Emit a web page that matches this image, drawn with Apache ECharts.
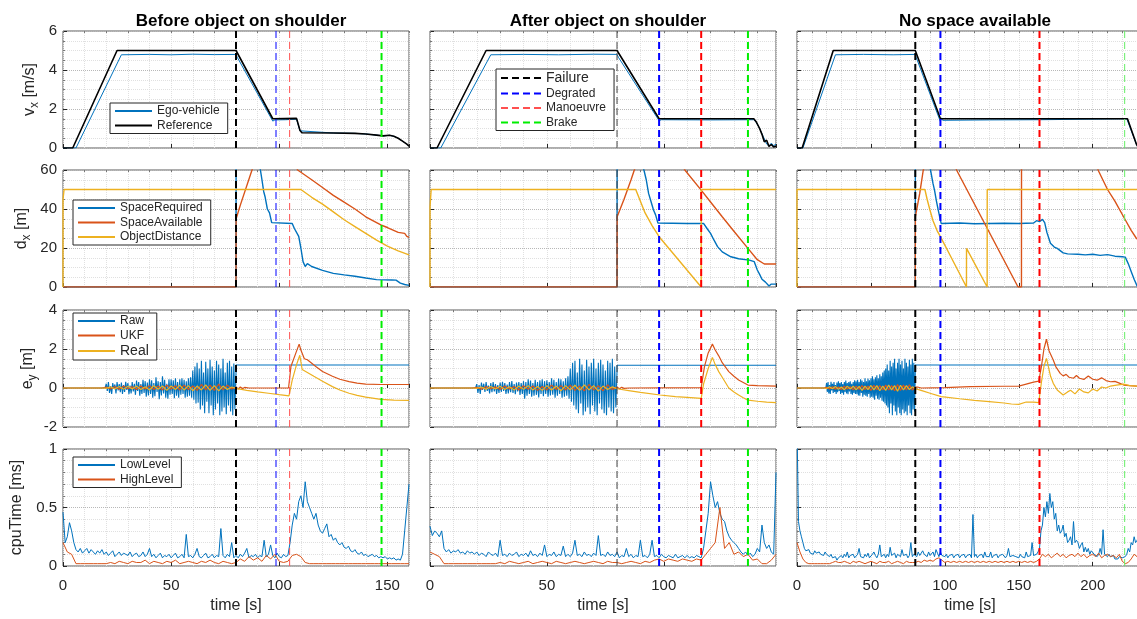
<!DOCTYPE html>
<html>
<head>
<meta charset="utf-8">
<title>Degraded mode scenarios</title>
<script src="https://cdn.jsdelivr.net/npm/echarts@6/dist/echarts.min.js"></script>
<style>
  html, body { margin: 0; padding: 0; background: #fff; }
  #chart { width: 1137px; height: 619px; }
</style>
</head>
<body>
<div id="chart"></div>
<script>
// ---------------- data ----------------
const titles = ['Before object on shoulder', 'After object on shoulder', 'No space available']
const tMax = [160, 148, 234]

// event times per scenario
const tFailure = [80, 80, 80]
const tDegraded = [98.5, 98, 97]
const tManoeuvre = [104.8, 116, 164]
const tBrake = [147.3, 136, 221.6]

// v_x [m/s]
const c1VxRef = [[0,0],[4.5,0],[25,5],[80,5],[97,1.5],[108,1.52],[108.8,1.45],[109.6,0.9],[110.5,0.78],[125,0.77],[135,0.75],[140,0.72],[145,0.66],[148,0.62],[151,0.65],[153,0.6],[155,0.5],[157,0.35],[159,0.2],[160,0.1]]
const c1VxEgo = [[0,0],[6,0],[27,4.78],[40,4.8],[50,4.78],[60,4.81],[70,4.79],[80,4.8],[80.6,4.65],[97,1.38],[98,1.44],[103,1.45],[108,1.48],[108.8,1.42],[109.6,0.88],[110.5,0.78],[125,0.77],[135,0.75],[140,0.72],[145,0.66],[148,0.62],[151,0.65],[153,0.6],[155,0.5],[157,0.35],[159,0.2],[160,0.1]]
const c2VxRef = [[0,0],[3,0],[24,5],[80,5],[98,1.5],[138.5,1.5],[139.5,1.35],[141,1.0],[142,0.7],[143,0.32],[144,0.4],[145,0.08],[146,0.18],[147,0.05],[148,0.1]]
const c2VxEgo = [[0,0],[4.6,0],[26,4.78],[40,4.8],[55,4.78],[70,4.81],[80,4.8],[80.6,4.65],[98,1.4],[99,1.45],[120,1.44],[138.5,1.45],[139.5,1.32],[141,1.0],[142.5,0.6],[144,0.2],[145,0.1],[146,0.25],[147,0.12],[148,0.2]]
const c3VxRef = [[0,0],[3.5,0],[24.5,5],[80,5],[97,1.5],[223.5,1.5],[229.5,0.2],[231,0]]
const c3VxEgo = [[0,0],[4,0],[26,4.78],[45,4.8],[65,4.78],[80,4.8],[80.6,4.65],[97,1.35],[97.5,1.55],[98.5,1.42],[130,1.44],[164,1.45],[165,1.5],[223,1.5],[224,1.45],[229.5,0.2],[231,0]]

// d_x [m]
const c1Req = [[0,0],[80,0],[80.05,80],[91,62],[92,55],[92.8,49],[93.5,46],[94.5,40],[95.5,38],[96.5,33],[97,32.6],[106,32.6],[107,30],[109,26],[110,20],[111,13],[112,10.5],[113,12],[115,10.5],[120,8.5],[125,7],[130,6.2],[135,5.5],[140,4.6],[145,3.8],[152,3.6],[154,3.5],[156,2],[158,1.3],[160,0.8]]
const c1Avail = [[0,0],[80,0],[80.05,35],[82,42],[85,52],[88,62],[95,80],[105,70],[108.5,60],[115,55],[120,51],[125,47],[130,43.5],[135,40],[140,36],[145,33],[147,31.8],[150,30.5],[155,28],[158,27.5],[159,26],[160,25.5]]
const c1Obj = [[0,0],[0.01,45],[0.5,50],[110,50],[115,46],[120,42.5],[125,38.5],[130,34.5],[135,31],[140,27.5],[145,24],[150,21],[155,18.5],[160,16.5]]
const c2Req = [[0,0],[80,0],[80.05,80],[91,62],[91.5,60],[92.5,55],[93.5,48],[94.5,44],[95.6,39.5],[96.5,37],[97.5,32.8],[110,32.6],[117,32.6],[118.5,30],[120,27.5],[121.5,24],[123,20.7],[125,18],[128.7,15.5],[132,14.5],[136.6,13.8],[138.7,13],[139.5,13.2],[140,8.7],[141,6.5],[142,4],[143.5,2.5],[145,0.5],[146,1.5],[148,1.5]]
const c2Avail = [[0,0],[80,0],[80.05,36],[83,45],[86,55],[87.4,60],[90,70],[105,70],[109,60],[116,49.7],[120,43.6],[125,36],[130,28.6],[136,19.8],[140,14],[143,11.8],[148,11.8]]
const c2Obj = [[0,0],[0.01,41],[0.5,50],[88,50],[90,44],[92,38],[95,31.5],[98,25.8],[105,15.8],[110,8.6],[116,0],[116.01,50],[148,50]]
const c3Req = [[0,0],[80,0],[80.05,80],[90,62],[90.3,60],[92,53],[93,49.7],[94.3,44],[95.5,39.5],[96.5,36],[97.5,32.6],[110,32.8],[120,32.4],[130,32.6],[140,32.7],[150,32.6],[160,32.8],[162,34],[164,33.5],[166,34.7],[167.5,33],[169,28],[171.4,22.4],[174,20.5],[176,19.8],[180,17.5],[183,17],[190,16.8],[195,16.5],[200,16.8],[205,16.2],[210,16.6],[215,15.8],[220,15.5],[222,15.3],[224,12],[226,8],[228,4],[230,0.5],[234,0]]
const c3Avail = [[0,0],[80,0],[80.05,36],[83,48],[85.4,60],[90,70],[104,70],[107.9,60],[149.5,0],[151.8,0],[151.85,80],[200,80],[203.6,60],[210,50],[215,44],[221.6,35],[226,29],[229.5,25],[234,22]]
const c3Obj = [[0,0],[0.01,50],[86.5,50],[88,45],[89.9,39.5],[92,34],[95,28.5],[97,25.8],[105,14.1],[110,6.8],[114.6,0],[114.65,19.8],[128.6,0],[128.65,50],[234,50]]

// e_y [m]: raw measurement noise sampled every 0.5 s from t = 20 s to 80 s
const noiseStart = 20, noiseStep = 0.5
const c1RawNoise = [
	.22,-.15,.3,-.25,.1,-.3,.25,-.05,.18,-.28,.3,-.12,.2,-.22,.28,-.3,.15,-.2,.32,-.1,
	.25,-.32,.12,-.28,.3,-.18,.22,-.35,.38,-.15,.3,-.4,.2,-.3,.42,-.25,.35,-.45,.28,-.38,
	.45,-.3,.4,-.5,.25,-.42,.55,-.2,.35,-.58,.3,-.38,.6,-.28,.42,-.5,.22,-.55,.45,-.35,
	.45,-.3,.4,-.52,.5,-.4,.3,-.5,.45,-.35,.5,-.3,.42,-.5,.35,-.45,.5,-.4,.55,-.5,
	.9,-.6,1.1,-.8,1.3,-.75,1.0,-1.1,1.4,-.9,.8,-1.3,1.35,-.7,1.0,-1.3,1.45,-.9,1.1,-1.4,
	.9,-1.1,1.4,-.8,1.2,-1.4,1.0,-1.2,1.5,-1.0,.8,-1.35,1.3,-.9,1.4,-1.2,1.1,-1.4,1.25,-1.1,
	.8]
const c2RawNoise = [
	.2,-.25,.15,-.3,.28,-.1,.22,-.2,.3,-.15,.12,-.28,.25,-.22,.3,-.18,.2,-.3,.15,-.25,
	.28,-.2,.32,-.15,.25,-.3,.18,-.28,.3,-.22,.35,-.25,.2,-.32,.28,-.18,.3,-.35,.25,-.3,
	.35,-.55,.3,-.4,.45,-.3,.38,-.45,.25,-.4,.42,-.35,.3,-.48,.4,-.3,.45,-.42,.35,-.3,
	.4,-.45,.3,-.38,.5,-.35,.42,-.5,.3,-.4,.48,-.3,.45,-.5,.35,-.45,.5,-.4,.6,-.55,
	1.0,-.7,1.3,-.9,1.4,-1.1,.8,-1.3,1.5,-.8,1.2,-1.4,.9,-1.2,1.45,-1.0,1.1,-1.35,1.3,-.9,
	1.5,-1.2,1.0,-1.4,1.3,-.8,1.45,-1.1,1.2,-1.3,.9,-1.4,1.4,-1.0,1.3,-1.2,1.5,-1.3,1.1,-1.0,
	.9]
const c3RawNoise = [
	.25,-.2,.3,-.28,.15,-.3,.32,-.12,.22,-.25,.3,-.2,.15,-.3,.28,-.22,.35,-.15,.25,-.3,
	.3,-.25,.2,-.35,.3,-.2,.38,-.28,.25,-.32,.3,-.18,.35,-.3,.22,-.35,.3,-.25,.4,-.3,
	.35,-.3,.42,-.38,.3,-.4,.45,-.25,.38,-.45,.3,-.35,.5,-.4,.35,-.45,.48,-.3,.4,-.5,
	.5,-.45,.6,-.5,.45,-.6,.55,-.4,.65,-.55,.5,-.6,.7,-.5,.6,-.65,.8,-.7,.9,-.8,
	1.0,-.9,1.2,-1.0,.9,-1.3,1.4,-.8,1.1,-1.4,1.3,-.9,1.5,-1.2,1.0,-1.4,1.3,-1.0,1.5,-1.3,
	1.2,-1.4,1.4,-1.1,1.0,-1.3,1.5,-1.2,1.3,-1.4,1.1,-.9,1.45,-1.3,1.2,-1.4,1.5,-1.1,1.3,-1.2,
	.9]
const rawLevel = [1.18, 1.17, 1.18]

// filtered / real lateral error ripple, every 2 s from t = 20 s to 80 s
const rippleStep = 2
const c1UkfRipple = [.05,-.05,.08,-.06,.1,-.04,.07,-.08,.1,-.05,.12,-.08,.1,-.1,.15,-.05,.12,-.1,.15,-.08,.1,-.12,.18,-.1,.15,-.12,.2,-.1,.15,-.05,.05]
const c1RealRipple = [-.02,.06,-.05,.08,-.07,.09,-.05,.1,-.08,.06,-.1,.12,-.06,.1,-.12,.1,-.08,.14,-.1,.12,-.14,.1,-.1,.16,-.12,.12,-.15,.1,-.08,.05,-.02]
const c2UkfRipple = [.03,-.06,.08,-.04,.06,-.08,.1,-.05,.08,-.1,.12,-.06,.1,-.12,.08,-.1,.15,-.08,.12,-.1,.14,-.12,.1,-.15,.18,-.1,.12,-.14,.16,-.08,.05]
const c2RealRipple = [-.02,.05,-.07,.08,-.05,.09,-.08,.06,-.1,.1,-.07,.12,-.1,.08,-.12,.12,-.1,.1,-.14,.12,-.1,.14,-.12,.16,-.1,.12,-.16,.1,-.08,.06,-.04]
const c3UkfRipple = [.04,-.05,.07,-.06,.05,-.08,.09,-.05,.07,-.09,.1,-.07,.12,-.08,.1,-.12,.14,-.09,.12,-.1,.15,-.1,.12,-.14,.18,-.12,.15,-.1,.16,-.1,.05]
const c3RealRipple = [-.03,.06,-.04,.08,-.07,.05,-.09,.1,-.06,.09,-.1,.08,-.12,.1,-.08,.13,-.1,.12,-.14,.1,-.12,.15,-.1,.12,-.16,.14,-.1,.12,-.08,.06,-.03]

// e_y after the failure
const c1UkfTail = [[81,-0.05],[82,0.05],[83,-0.03],[84,0.03],[86,0],[104.3,0],[105.4,1.1],[107.7,1.8],[109.2,2.25],[110,1.95],[111.6,1.5],[113,1.45],[116.9,1.1],[120,0.85],[124.6,0.6],[128,0.45],[132.3,0.33],[136,0.25],[140,0.2],[147,0.18],[160,0.18]]
const c1RealTail = [[85,-0.12],[90,-0.2],[95,-0.27],[100,-0.34],[104.5,-0.4],[106,0.4],[108,1.2],[109.5,1.68],[110.6,0.95],[113,0.8],[116,0.6],[120,0.35],[124.6,0.07],[128,-0.1],[132.3,-0.27],[136,-0.38],[140,-0.47],[147,-0.58],[153,-0.62],[160,-0.63]]
const c2UkfTail = [[81,-0.04],[82,0.04],[83,-0.02],[85,0],[116,0.02],[117.4,1.1],[119,1.8],[120.8,2.25],[122,1.95],[123.5,1.65],[125,1.3],[127.8,0.84],[130,0.6],[132,0.41],[134,0.28],[136,0.15],[140,0.12],[148,0.1]]
const c2RealTail = [[85,-0.13],[90,-0.22],[98.4,-0.36],[105,-0.44],[110,-0.48],[116,-0.53],[117,0.2],[119,1.0],[120.8,1.57],[122,1.2],[123.5,0.84],[125,0.55],[127.8,0.0],[130,-0.2],[132,-0.36],[134,-0.5],[136,-0.62],[140,-0.68],[144,-0.72],[148,-0.75]]
const c3UkfTail = [[81,-0.04],[82,0.04],[84,0],[100,0.02],[117,0.07],[140,0.09],[150,0.1],[155,0.2],[160,0.3],[163.5,0.35],[165.3,1.1],[167,2.0],[168.7,2.5],[170.5,1.9],[173.3,1.44],[175,1.1],[178,0.75],[180,0.62],[182,0.7],[184,0.55],[187,0.5],[189,0.64],[191,0.5],[194,0.44],[197,0.62],[200,0.45],[203,0.4],[206,0.52],[209,0.38],[212,0.32],[215,0.34],[218,0.25],[221,0.15],[225,0.12],[230,0.1],[234,0.1]]
const c3RealTail = [[85,-0.15],[90,-0.27],[97.5,-0.44],[110,-0.55],[120,-0.63],[130,-0.7],[140,-0.77],[145,-0.82],[150,-0.84],[155,-0.72],[160,-0.72],[163.5,-0.75],[165.3,0.3],[167,1.1],[168.7,1.52],[170,1.1],[171.5,0.6],[173.3,0.24],[176,-0.1],[180,-0.36],[183,-0.2],[185,-0.12],[188,-0.3],[191,-0.05],[194,-0.2],[197,-0.25],[200,-0.05],[203,-0.15],[206,0.05],[209,0],[212,0.1],[216,0.15],[221,0.2],[225,0.12],[230,0.1],[234,0.1]]

// cpuTime [ms]: low level every 1 s, high level every 2 s, from t = 0
const cpuLowStep = 1, cpuHighStep = 2
const c1Low = [
	.46,.2,.25,.37,.3,.2,.14,.12,.15,.11, .13,.15,.11,.14,.12,.1,.13,.11,.14,.1,
	.12,.09,.11,.13,.08,.1,.12,.09,.11,.1, .09,.12,.08,.1,.11,.08,.09,.12,.08,.1,
	.15,.08,.1,.07,.09,.11,.07,.09,.08,.1, .07,.09,.11,.07,.08,.1,.07,.27,.08,.09,
	.07,.1,.15,.08,.07,.09,.11,.07,.08,.1, .07,.09,.08,.32,.09,.07,.1,.08,.2,.07,
	.09,.07,.1,.08,.11,.15,.07,.09,.08,.1, .07,.09,.08,.22,.08,.1,.18,.09,.07,.11,
	.08,.07,.1,.08,.09,.2,.35,.45,.4,.55, .6,.5,.72,.55,.5,.45,.4,.45,.35,.3,
	.28,.32,.36,.25,.27,.22,.24,.2,.18,.2, .16,.15,.17,.13,.12,.14,.11,.1,.12,.09,
	.1,.08,.09,.1,.08,.09,.07,.08,.07,.08, .06,.07,.06,.07,.05,.06,.05,.1,.3,.5,
	.7]
const c2Low = [
	.34,.26,.3,.28,.25,.3,.15,.12,.14,.11, .13,.12,.14,.11,.12,.1,.13,.11,.12,.1,
	.12,.09,.11,.1,.08,.12,.1,.09,.11,.08, .22,.09,.1,.08,.11,.09,.1,.12,.08,.1,
	.09,.11,.08,.13,.09,.1,.08,.11,.09,.18, .08,.1,.09,.12,.08,.1,.09,.17,.08,.1,
	.08,.11,.22,.09,.1,.08,.12,.09,.1,.08, .11,.09,.26,.09,.1,.08,.12,.09,.1,.08,
	.12,.07,.09,.08,.15,.08,.1,.07,.09,.08, .22,.08,.09,.07,.1,.22,.08,.09,.07,.1,
	.08,.07,.09,.08,.07,.1,.07,.08,.09,.07, .09,.07,.08,.07,.09,.08,.07,.15,.3,.45,
	.72,.6,.5,.55,.45,.4,.38,.3,.25,.22, .2,.18,.15,.12,.1,.12,.09,.11,.08,.1,
	.15,.12,.35,.2,.15,.18,.12,.1,.8]
const c3Low = [
	1.2,.38,.3,.25,.2,.15,.13,.12,.14,.11, .12,.1,.13,.11,.1,.12,.1,.11,.09,.12,
	.1,.09,.08,.1,.07,.06,.08,.05,.07,.06, .09,.07,.1,.08,.12,.07,.09,.08,.1,.07,
	.08,.1,.15,.08,.09,.07,.1,.08,.11,.07, .08,.1,.12,.09,.07,.1,.18,.08,.09,.1,
	.07,.1,.08,.16,.09,.08,.11,.07,.1,.09, .08,.14,.09,.08,.1,.07,.09,.2,.08,.1,
	.09,.08,.12,.09,.08,.13,.1,.09,.08,.12, .09,.1,.12,.08,.14,.11,.08,.12,.09,.1,
	.08,.1,.07,.09,.08,.1,.07,.09,.08,.1, .07,.09,.08,.1,.07,.09,.08,.1,.07,.44,
	.08,.1,.07,.09,.08,.1,.07,.12,.08,.09, .08,.12,.07,.09,.08,.1,.07,.09,.08,.1,
	.1,.07,.09,.15,.08,.07,.09,.1,.08,.07, .07,.1,.08,.09,.07,.12,.08,.07,.09,.2,
	.09,.08,.1,.12,.15,.3,.35,.5,.42,.55, .45,.62,.5,.55,.4,.45,.3,.35,.28,.3,
	.35,.25,.28,.2,.22,.25,.18,.38,.2,.22, .2,.15,.18,.2,.12,.16,.12,.15,.1,.13,
	.12,.1,.09,.08,.1,.15,.1,.31,.1,.09, .08,.1,.08,.07,.09,.06,.07,.06,.08,.07,
	.07,.06,.08,.1,.15,.12,.2,.18,.25,.2, .22,.25,.2]
const c1High = [.2,.12,.1,.02,.02,.02,.02,.02,.02,.02,.02,.03,.02,.04,.03,.02,.04,.03,.03,.05,.02,.04,.03,.02,.04,.03,.05,.02,.03,.04,.03,.02,.04,.03,.05,.03,.02,.04,.03,.02,.03,.06,.04,.08,.05,.07,.04,.09,.06,.1,.04,.03,.04,.09,.1,.08,.03,.02,.02,.02,.02,.02,.02,.02,.02,.02,.02,.02,.02,.02,.02,.02,.02,.02,.02,.02,.02,.02,.02,.02,.02]
const c2High = [.12,.1,.08,.02,.02,.02,.02,.02,.02,.02,.02,.02,.02,.02,.02,.03,.02,.04,.03,.02,.03,.04,.02,.03,.04,.03,.02,.04,.03,.02,.03,.04,.03,.02,.03,.04,.03,.02,.04,.03,.03,.02,.03,.04,.03,.02,.04,.03,.05,.06,.04,.06,.05,.04,.06,.05,.04,.06,.05,.1,.15,.2,.5,.15,.2,.1,.12,.08,.1,.05,.06,.02,.02,.05,.1]
const c3High = [.2,.12,.06,.03,.02,.02,.02,.02,.02,.02,.02,.02,.03,.04,.03,.03,.04,.03,.02,.04,.03,.04,.03,.02,.03,.04,.03,.02,.04,.03,.03,.04,.02,.03,.04,.03,.02,.04,.03,.03,.03,.04,.03,.05,.04,.05,.04,.06,.07,.05,.03,.04,.03,.04,.03,.04,.03,.04,.03,.04,.03,.04,.03,.04,.03,.04,.03,.04,.03,.04,.03,.04,.03,.04,.03,.04,.03,.04,.03,.04,.03,.04,.06,.1,.08,.1,.07,.09,.11,.08,.1,.07,.09,.1,.08,.11,.08,.1,.07,.09,.1,.08,.11,.07,.09,.1,.08,.09,.07,.1,.04,.02,.03,.06,.1,.08,.12]

// ---------------- layout & style ----------------
const colLeft = [63, 430, 797]
const colWidth = 346
const rowTop = [31, 170, 310, 449]
const rowHeight = 117
const rowMin = [0, 0, -2, 0]
const rowMax = [6, 60, 4, 1]
const rowStep = [2, 20, 2, 0.5]
const rowMinor = [4, 4, 4, 5]
const rowNames = ['{n|v}{s|x}{n| [m/s]}', '{n|d}{s|x}{n| [m]}', '{n|e}{s|y}{n| [m]}', '{n|cpuTime [ms]}']
const rowNameGap = [22, 30, 24, 35]

const FONT = 'Liberation Sans'
const INK = '#262626'
const BLUE = '#0072BD', ORANGE = '#D95319', YELLOW = '#EDB120'

const evNames = ['Failure', 'Degrated', 'Manoeuvre', 'Brake']
const evTimes = [tFailure, tDegraded, tManoeuvre, tBrake]
const evColors = [['#000', '#0000ff', '#ff5050', '#00ee00'],
                  ['#444', '#0000ff', '#ff0000', '#00ee00'],
                  ['#000', '#0000ff', '#ff0000', '#66ee66']]
const evWidths = [[2, 1, 1, 2], [1, 2, 2, 2], [2, 2, 2, 1]]

const vxRef = [c1VxRef, c2VxRef, c3VxRef]
const vxEgo = [c1VxEgo, c2VxEgo, c3VxEgo]
const req = [c1Req, c2Req, c3Req]
const avail = [c1Avail, c2Avail, c3Avail]
const obj = [c1Obj, c2Obj, c3Obj]
const rawNoise = [c1RawNoise, c2RawNoise, c3RawNoise]
const ukfRipple = [c1UkfRipple, c2UkfRipple, c3UkfRipple]
const realRipple = [c1RealRipple, c2RealRipple, c3RealRipple]
const ukfTail = [c1UkfTail, c2UkfTail, c3UkfTail]
const realTail = [c1RealTail, c2RealTail, c3RealTail]
const cpuLow = [c1Low, c2Low, c3Low]
const cpuHigh = [c1High, c2High, c3High]

function sampled(t0, dt, vals) {
	return vals.map((v, i) => [t0 + i * dt, v])
}

// which lines go in which row: [name, data, colour, width]
function rowSeries(r, c) {
	if (r === 0) return [
		['Ego-vehicle', vxEgo[c], BLUE, 1],
		['Reference', vxRef[c], '#000', 1.6],
	]
	if (r === 1) return [
		['SpaceRequired', req[c], BLUE, 1.4],
		['SpaceAvailable', avail[c], ORANGE, 1.4],
		['ObjectDistance', obj[c], YELLOW, 1.4],
	]
	if (r === 2) return [
		['Raw', [[0, 0], [19.5, 0]].concat(sampled(noiseStart, noiseStep, rawNoise[c]), [[80, rawLevel[c]], [tMax[c], rawLevel[c]]]), BLUE, 1.1],
		['UKF', [[0, 0], [18, 0]].concat(sampled(noiseStart, rippleStep, ukfRipple[c]), ukfTail[c]), ORANGE, 1.2],
		['Real', [[0, 0], [18, 0]].concat(sampled(noiseStart, rippleStep, realRipple[c]), realTail[c]), YELLOW, 1.2],
	]
	return [
		['LowLevel', sampled(0, cpuLowStep, cpuLow[c]), BLUE, 1],
		['HighLevel', sampled(0, cpuHighStep, cpuHigh[c]), ORANGE, 1],
	]
}

const grids = [], xAxes = [], yAxes = [], series = [], titleList = []

for (let r = 0; r < 4; r++) {
	for (let c = 0; c < 3; c++) {
		const g = r * 3 + c
		grids.push({
			left: colLeft[c], top: rowTop[r], width: colWidth, height: rowHeight,
			show: true, borderColor: '#5a5a5a', borderWidth: 1, backgroundColor: '#fff',
			containLabel: false, outerBoundsMode: 'none',
		})
		const bottom = r === 3
		// major x axis: labels + grid every 50 s
		xAxes.push({
			gridIndex: g, type: 'value', min: 0, max: tMax[c], interval: 50,
			axisLine: { show: false },
			axisTick: { show: true, inside: true, length: 4, lineStyle: { color: INK } },
			axisLabel: { show: bottom, showMaxLabel: false, fontSize: 15, color: INK, fontFamily: FONT, margin: 12 },
			splitLine: { show: true, lineStyle: { color: '#b8b8b8', type: 'dotted', width: 1 } },
			name: bottom ? 'time [s]' : '', nameLocation: 'middle', nameGap: 32,
			nameTextStyle: { fontSize: 16, color: INK, fontFamily: FONT },
		})
		// minor x grid every 10 s
		xAxes.push({
			gridIndex: g, type: 'value', min: 0, max: tMax[c], interval: 10,
			axisLine: { show: false },
			axisTick: { show: true, inside: true, length: 2, lineStyle: { color: '#777' } },
			axisLabel: { show: false },
			splitLine: { show: true, lineStyle: { color: '#e0e0e0', type: 'dotted', width: 1 } },
		})
		yAxes.push({
			gridIndex: g, type: 'value', min: rowMin[r], max: rowMax[r], interval: rowStep[r],
			axisLine: { show: false },
			axisTick: { show: true, inside: true, length: 4, lineStyle: { color: INK } },
			minorTick: { show: true, splitNumber: rowMinor[r], length: 2, lineStyle: { color: '#777' } },
			axisLabel: { show: c === 0, fontSize: 15, color: INK, fontFamily: FONT, margin: 6 },
			splitLine: { show: true, lineStyle: { color: '#b8b8b8', type: 'dotted', width: 1 } },
			minorSplitLine: { show: true, lineStyle: { color: '#e0e0e0', type: 'dotted', width: 1 } },
			name: c === 0 ? rowNames[r] : '', nameLocation: 'middle', nameRotate: 90, nameGap: rowNameGap[r],
			nameTextStyle: {
				color: INK, fontFamily: FONT,
				rich: {
					n: { fontSize: 16, lineHeight: 22, color: INK, fontFamily: FONT },
					s: { fontSize: 12, lineHeight: 12, verticalAlign: 'bottom', color: INK, fontFamily: FONT },
				},
			},
		})
		for (const [name, data, color, width] of rowSeries(r, c)) {
			series.push({
				name, type: 'line', xAxisIndex: 2 * g, yAxisIndex: g, data,
				symbol: 'none', showSymbol: false, clip: true, animation: false,
				lineStyle: { color, width }, itemStyle: { color }, z: 3,
			})
		}
		for (let k = 0; k < 4; k++) {
			const t = evTimes[k][c]
			series.push({
				name: evNames[k], type: 'line', xAxisIndex: 2 * g, yAxisIndex: g,
				data: [[t, rowMin[r]], [t, rowMax[r]]],
				symbol: 'none', showSymbol: false, animation: false,
				lineStyle: { color: evColors[c][k], width: evWidths[c][k], type: [7, 4] },
				itemStyle: { color: evColors[c][k] }, z: 5,
			})
		}
	}
}

for (let c = 0; c < 3; c++) {
	titleList.push({
		text: titles[c], left: colLeft[c] + colWidth / 2, top: 8, textAlign: 'center',
		textStyle: { fontSize: 17, fontWeight: 'bold', color: '#000', fontFamily: FONT },
	})
}

const legendBase = {
	orient: 'vertical', backgroundColor: '#fff', borderColor: INK, borderWidth: 1,
	borderRadius: 0, padding: [2, 8, 2, 4], itemGap: 2.5, itemWidth: 37, itemHeight: 12,
	itemStyle: { opacity: 0 },
	textStyle: { fontSize: 12, color: INK, fontFamily: FONT, rich: { big: { fontSize: 14, color: INK, fontFamily: FONT } } },
	formatter: name => (name === 'Failure' || name === 'Real') ? '{big|' + name + '}' : name,
	selectedMode: false,
}

const option = {
	animation: false,
	backgroundColor: '#fff',
	title: titleList,
	grid: grids,
	xAxis: xAxes,
	yAxis: yAxes,
	legend: [
		Object.assign({}, legendBase, { data: ['Ego-vehicle', 'Reference'], left: 110, top: 103 }),
		Object.assign({}, legendBase, { data: evNames, left: 496, top: 69, itemWidth: 40 }),
		Object.assign({}, legendBase, { data: ['SpaceRequired', 'SpaceAvailable', 'ObjectDistance'], left: 73, top: 200 }),
		Object.assign({}, legendBase, { data: ['Raw', 'UKF', 'Real'], left: 73, top: 313 }),
		Object.assign({}, legendBase, { data: ['LowLevel', 'HighLevel'], left: 73, top: 457 }),
	],
	series,
}

const myChart = echarts.init(document.getElementById('chart'), null, { renderer: 'canvas' })
myChart.setOption(option)
</script>
</body>
</html>
